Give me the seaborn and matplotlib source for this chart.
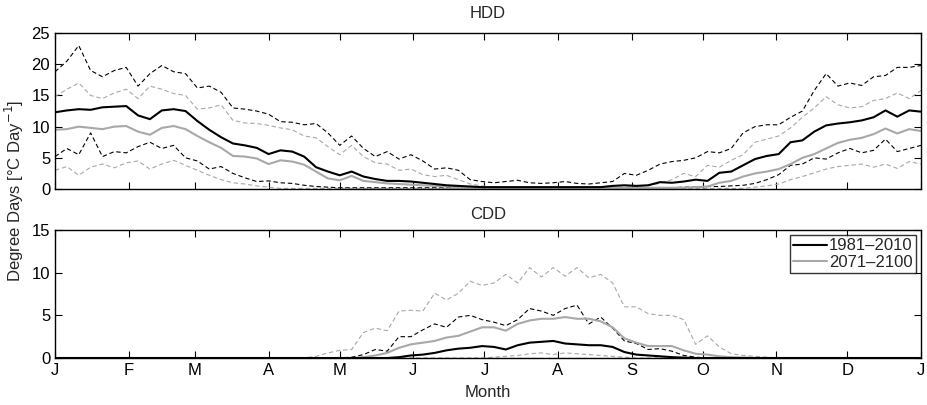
import matplotlib
matplotlib.use("Agg")
import numpy as np
import pandas as pd
import seaborn as sns
import matplotlib.pyplot as plt

# Day of year, sampled every 5 days
days = list(range(0, 366, 5))

month_ticks = [0, 31, 59, 90, 120, 151, 181, 212, 243, 273, 304, 334, 365]
month_labels = ["J", "F", "M", "A", "M", "J", "J", "A", "S", "O", "N", "D", "J"]

# ---- HDD ----
hdd_ref_med = [12.3, 12.6, 12.8, 12.7, 13.1, 13.2, 13.3, 11.8, 11.2, 12.6,
               12.8, 12.5, 10.9, 9.5, 8.3, 7.3, 7.0, 6.6, 5.6, 6.2,
               6.0, 5.2, 3.5, 2.8, 2.2, 2.8, 2.0, 1.6, 1.3, 1.3,
               1.2, 1.0, 0.8, 0.6, 0.5, 0.4, 0.3, 0.3, 0.3, 0.3,
               0.3, 0.3, 0.3, 0.3, 0.3, 0.3, 0.3, 0.5, 0.6, 0.5,
               0.6, 1.1, 1.0, 1.2, 1.5, 1.3, 2.6, 2.8, 3.8, 4.8,
               5.3, 5.6, 7.5, 7.8, 9.2, 10.2, 10.5, 10.7, 11.0, 11.5,
               12.6, 11.6, 12.6, 12.4]
hdd_fut_med = [9.5, 9.6, 10.0, 9.8, 9.6, 10.0, 10.1, 9.2, 8.7, 9.8,
               10.1, 9.6, 8.5, 7.5, 6.6, 5.3, 5.2, 4.9, 4.0, 4.6,
               4.4, 3.9, 2.8, 1.7, 1.4, 2.1, 1.3, 1.1, 0.9, 0.8,
               0.7, 0.6, 0.5, 0.4, 0.3, 0.2, 0.2, 0.2, 0.2, 0.2,
               0.2, 0.2, 0.2, 0.2, 0.2, 0.2, 0.2, 0.2, 0.2, 0.2,
               0.2, 0.2, 0.2, 0.2, 0.3, 0.4, 1.0, 1.3, 2.0, 2.5,
               2.8, 3.2, 4.0, 5.0, 5.6, 6.5, 7.4, 7.9, 8.2, 8.8,
               9.7, 8.9, 9.6, 9.3]
hdd_ref_hi = [18.8, 20.5, 23.0, 19.0, 18.0, 19.0, 19.5, 16.5, 18.5, 19.8,
              18.8, 18.5, 16.2, 16.5, 15.5, 13.0, 12.8, 12.5, 12.0, 10.8,
              10.7, 10.3, 10.5, 9.0, 7.0, 8.5, 6.5, 5.2, 6.0, 4.8,
              5.5, 4.5, 3.2, 3.4, 3.0, 1.5, 1.2, 1.0, 1.2, 1.4,
              1.0, 0.9, 1.0, 1.2, 0.9, 0.8, 1.0, 1.2, 2.5, 2.2,
              3.0, 4.0, 4.4, 4.6, 5.0, 6.0, 5.8, 6.5, 9.0, 10.0,
              10.3, 10.3, 11.5, 12.5, 15.8, 18.5, 16.5, 17.0, 16.6, 18.0,
              18.2, 19.5, 19.5, 19.8]
hdd_fut_hi = [14.8, 16.0, 17.0, 15.0, 14.5, 15.4, 16.0, 14.5, 16.5, 16.0,
              15.3, 15.0, 12.8, 13.0, 13.5, 11.0, 10.6, 10.5, 10.2, 9.8,
              9.5, 8.5, 8.2, 6.8, 5.5, 7.0, 5.2, 4.2, 4.0, 3.0,
              3.2, 2.3, 2.0, 2.2, 1.5, 0.8, 0.5, 0.3, 0.3, 0.3,
              0.3, 0.3, 0.3, 0.3, 0.3, 0.3, 0.3, 0.3, 0.3, 0.4,
              0.6, 0.9, 1.5, 2.5, 2.0, 3.8, 3.5, 4.6, 5.5, 7.5,
              8.0, 8.5, 9.8, 11.5, 13.0, 14.8, 13.5, 13.0, 13.2, 14.2,
              14.5, 15.4, 14.5, 15.8]
hdd_ref_lo = [5.2, 6.5, 5.5, 9.0, 5.2, 6.0, 5.8, 6.8, 7.5, 6.5,
              7.0, 5.0, 4.5, 3.2, 3.6, 2.5, 1.8, 1.2, 1.3, 1.0,
              0.9, 0.6, 0.4, 0.3, 0.2, 0.2, 0.2, 0.2, 0.2, 0.2,
              0.2, 0.2, 0.2, 0.2, 0.2, 0.2, 0.2, 0.2, 0.2, 0.2,
              0.2, 0.2, 0.2, 0.2, 0.2, 0.2, 0.2, 0.2, 0.2, 0.2,
              0.2, 0.2, 0.2, 0.3, 0.3, 0.4, 0.4, 0.5, 0.6, 0.9,
              1.5, 2.3, 3.8, 4.0, 5.0, 4.8, 5.8, 6.5, 5.8, 6.2,
              8.0, 6.0, 6.5, 7.0]
hdd_fut_lo = [3.0, 3.6, 2.2, 3.5, 4.0, 3.4, 4.2, 4.5, 3.2, 4.0,
              4.6, 3.8, 3.0, 2.2, 1.5, 1.0, 0.8, 0.5, 0.3, 0.1,
              0.1, 0.1, 0.1, 0.1, 0.1, 0.1, 0.1, 0.1, 0.1, 0.1,
              0.1, 0.1, 0.1, 0.1, 0.1, 0.1, 0.1, 0.1, 0.1, 0.1,
              0.1, 0.1, 0.1, 0.1, 0.1, 0.1, 0.1, 0.1, 0.1, 0.1,
              0.1, 0.1, 0.1, 0.1, 0.1, 0.1, 0.1, 0.1, 0.1, 0.3,
              0.5, 0.8, 1.5, 2.0, 2.6, 3.2, 3.6, 3.8, 4.0, 3.5,
              4.0, 3.3, 4.4, 4.0]

# ---- CDD ----
cdd_ref_med = ([0.0] * 29 + [0.1,
               0.3, 0.4, 0.6, 0.9, 1.1, 1.2, 1.4, 1.3, 1.0, 1.5,
               1.8, 1.9, 2.0, 1.7, 1.6, 1.5, 1.5, 1.3, 0.7, 0.4,
               0.3, 0.2, 0.1, 0.05] + [0.0] * 20)
cdd_fut_med = ([0.0] * 26 + [0.1, 0.3, 0.6, 1.2,
               1.6, 1.8, 2.0, 2.4, 2.6, 3.1, 3.6, 3.6, 3.2, 4.0,
               4.4, 4.6, 4.6, 4.8, 4.6, 4.6, 4.3, 3.6, 2.3, 1.8,
               1.4, 1.4, 1.4, 0.9, 0.5, 0.4, 0.2, 0.1, 0.05] + [0.0] * 15)
cdd_ref_hi = ([0.0] * 25 + [0.1, 0.4, 1.0, 0.8, 2.5,
              2.5, 3.3, 4.0, 3.6, 4.8, 5.0, 4.5, 4.2, 3.8, 4.5,
              5.8, 5.5, 5.0, 5.8, 6.2, 4.0, 4.8, 3.5, 2.0, 1.7,
              1.0, 1.1, 0.8, 0.3, 0.1] + [0.0] * 19)
cdd_fut_hi = ([0.0] * 22 + [0.2, 0.6, 0.9, 1.0, 3.0, 3.5, 3.2, 5.5,
              5.6, 5.5, 7.6, 6.8, 7.6, 9.0, 8.5, 8.8, 9.8, 8.8,
              10.6, 9.5, 10.6, 9.6, 10.6, 9.4, 9.8, 8.8, 6.0, 6.0,
              5.2, 5.0, 5.0, 4.5, 1.6, 2.6, 1.3, 0.5, 0.3, 0.2,
              0.1] + [0.0] * 13)
cdd_ref_lo = [0.0] * 74
cdd_fut_lo = ([0.0] * 37 + [0.1, 0.2, 0.3,
              0.5, 0.6, 0.4, 0.6, 0.5, 0.4, 0.3, 0.2, 0.1] + [0.0] * 25)

labels = ["1981\u20132010", "2071\u20132100"]

sns.set_style("ticks")
plt.rcParams["font.family"] = ["Liberation Sans", "DejaVu Sans"]
plt.rcParams["font.size"] = 12

BLACK = "black"
GRAY = "#a8a8a8"
DASH = (0, (4, 2.5))

fig = plt.figure(figsize=(9.28, 4.05), dpi=100)
ax1 = fig.add_axes([0.0593, 0.5333, 0.9332, 0.385])
ax2 = fig.add_axes([0.0593, 0.116, 0.9332, 0.316])


def draw_panel(ax, ref_lo, ref_hi, fut_lo, fut_hi, ref_med, fut_med):
    for vals, col in [(fut_lo, GRAY), (fut_hi, GRAY), (ref_lo, BLACK), (ref_hi, BLACK)]:
        sns.lineplot(x=days, y=vals, ax=ax, color=col, lw=0.8, linestyle=DASH)
    sns.lineplot(x=days, y=fut_med, ax=ax, color=GRAY, lw=1.5)
    sns.lineplot(x=days, y=ref_med, ax=ax, color=BLACK, lw=1.5)
    ax.set_xlim(0, 365)
    ax.set_xticks(month_ticks)
    ax.tick_params(direction="in", top=True, right=True, length=5,
                   width=0.8, labelsize=12, colors="black")
    for sp in ax.spines.values():
        sp.set_linewidth(1.0)
        sp.set_color("black")
    ax.set_ylabel("")


draw_panel(ax1, hdd_ref_lo, hdd_ref_hi, hdd_fut_lo, hdd_fut_hi, hdd_ref_med, hdd_fut_med)
ax1.set_ylim(0, 25)
ax1.set_yticks([0, 5, 10, 15, 20, 25])
ax1.set_xticklabels([])
ax1.set_title("HDD", fontsize=12, pad=11)

draw_panel(ax2, cdd_ref_lo, cdd_ref_hi, cdd_fut_lo, cdd_fut_hi, cdd_ref_med, cdd_fut_med)
ax2.set_ylim(0, 15)
ax2.set_yticks([0, 5, 10, 15])
ax2.set_xticklabels(month_labels)
ax2.set_title("CDD", fontsize=12, pad=8)
ax2.set_xlabel("Month", fontsize=12, labelpad=5)

handles = [plt.Line2D([], [], color=BLACK, lw=1.5),
           plt.Line2D([], [], color=GRAY, lw=1.5)]
leg = ax2.legend(handles, labels, loc="upper right", fontsize=12,
                 frameon=True, fancybox=False, handlelength=2.0,
                 handletextpad=0.15, borderpad=0.2, labelspacing=0.1,
                 borderaxespad=0.3)
leg.get_frame().set_edgecolor("black")
leg.get_frame().set_linewidth(1.0)

fig.text(0.016, 0.528, "Degree Days [\u00b0C Day$^{-1}$]", rotation=90,
         va="center", ha="center", fontsize=12)

fig.savefig("out.png", dpi=100)
